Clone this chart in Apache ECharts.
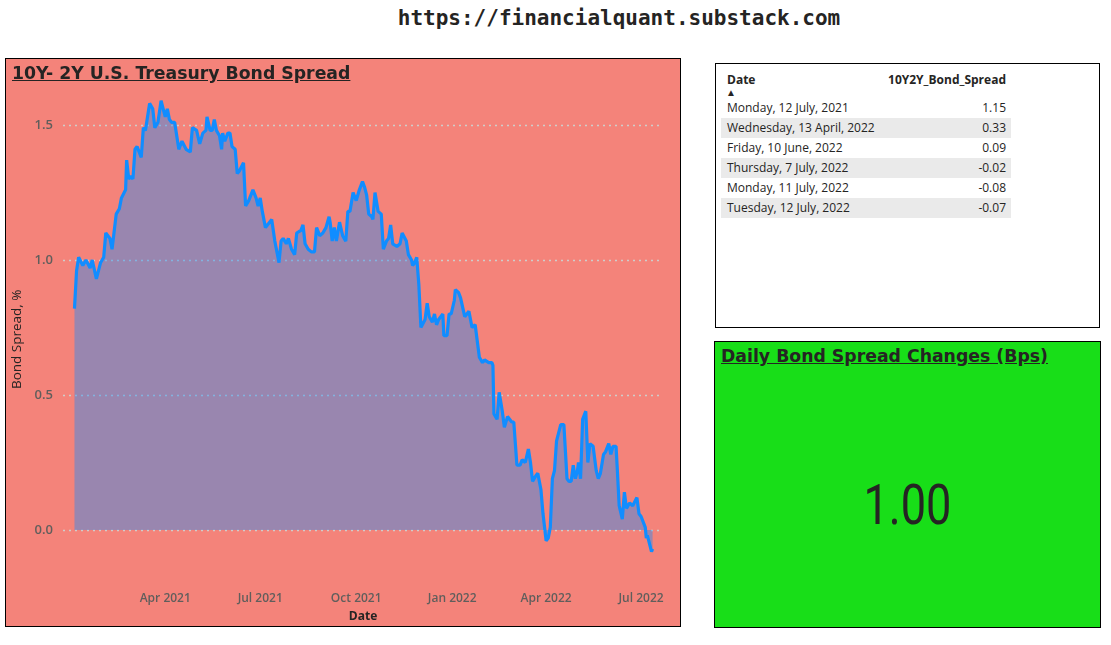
<!DOCTYPE html>
<html>
<head>
<meta charset="utf-8">
<script src="https://cdn.jsdelivr.net/npm/echarts@6/dist/echarts.min.js"></script>
<style>
html,body{margin:0;padding:0;background:#ffffff;width:1111px;height:645px;overflow:hidden;}
body{position:relative;font-family:"Open Sans","Noto Sans",sans-serif;color:#252423;}
.abs{position:absolute;}
#site{left:319px;top:4px;width:600px;text-align:center;font-family:"DejaVu Sans Mono",monospace;font-weight:bold;font-size:21px;line-height:28px;color:#252423;}
#panel{left:5px;top:58px;width:676px;height:569px;box-sizing:border-box;border:1px solid #000;background:#F4837A;}
#chart{left:0;top:0;width:674px;height:567px;}
#ctitle{left:6px;top:3px;font-family:"DejaVu Sans",sans-serif;font-weight:bold;font-size:17.3px;line-height:22px;text-decoration:underline;color:#252423;white-space:nowrap;}
#tbl{left:715px;top:63px;width:385px;height:265px;box-sizing:border-box;border:1px solid #000;background:#fff;}
.hdr{font-weight:bold;font-size:12px;line-height:14px;white-space:nowrap;}
.row{left:5px;width:290px;height:20px;font-size:12px;line-height:20px;white-space:nowrap;}
.row .d{position:absolute;left:6px;}
.row .v{position:absolute;right:5px;}
#card{left:714px;top:341px;width:387px;height:287px;box-sizing:border-box;border:1px solid #000;background:#18DE18;}
#cardTitle{left:6px;top:3px;font-family:"DejaVu Sans",sans-serif;font-weight:bold;font-size:17.3px;line-height:22px;text-decoration:underline;color:#252423;white-space:nowrap;}
#cardVal{left:0;width:385px;top:130px;text-align:center;font-family:Roboto,"Noto Sans",sans-serif;font-size:55px;line-height:66px;color:#252423;transform:scaleX(0.82);transform-origin:center;}
</style>
</head>
<body>
<div id="site" class="abs">https://financialquant.substack.com</div>
<div id="panel" class="abs">
  <div id="chart" class="abs"></div>
  <div id="ctitle" class="abs">10Y- 2Y U.S. Treasury Bond Spread</div>
</div>
<div id="tbl" class="abs"></div>
<div id="card" class="abs">
  <div id="cardTitle" class="abs">Daily Bond Spread Changes (Bps)</div>
  <div id="cardVal" class="abs"></div>
</div>
<script>
// ---- data ----
const dates = [
'2021-01-04','2021-01-06','2021-01-08','2021-01-12','2021-01-15','2021-01-19','2021-01-21','2021-01-25','2021-01-29',
'2021-02-01','2021-02-03','2021-02-07','2021-02-09','2021-02-13','2021-02-16','2021-02-18','2021-02-22','2021-02-23','2021-02-25','2021-02-27',
'2021-03-01','2021-03-03','2021-03-05','2021-03-09','2021-03-11','2021-03-13','2021-03-17','2021-03-20','2021-03-22','2021-03-25','2021-03-28','2021-03-30',
'2021-04-01','2021-04-03','2021-04-05','2021-04-07','2021-04-10','2021-04-14','2021-04-17','2021-04-21','2021-04-25','2021-04-27',
'2021-05-01','2021-05-04','2021-05-07','2021-05-10','2021-05-11','2021-05-14','2021-05-16','2021-05-18','2021-05-20','2021-05-23','2021-05-25','2021-05-26','2021-05-28','2021-05-31',
'2021-06-02','2021-06-04','2021-06-07','2021-06-09','2021-06-11','2021-06-15','2021-06-17','2021-06-20','2021-06-24','2021-06-27','2021-06-29',
'2021-07-01','2021-07-03','2021-07-06','2021-07-10','2021-07-12','2021-07-15','2021-07-19','2021-07-21','2021-07-23','2021-07-26','2021-07-28','2021-07-31',
'2021-08-03','2021-08-05','2021-08-09','2021-08-11','2021-08-13','2021-08-16','2021-08-19','2021-08-22','2021-08-24','2021-08-27','2021-08-30',
'2021-09-02','2021-09-05','2021-09-06','2021-09-08','2021-09-10','2021-09-12','2021-09-15','2021-09-18','2021-09-21','2021-09-23','2021-09-25','2021-09-28',
'2021-10-01','2021-10-04','2021-10-07','2021-10-09','2021-10-11','2021-10-13','2021-10-16','2021-10-17','2021-10-19','2021-10-22','2021-10-25','2021-10-27','2021-10-30',
'2021-11-01','2021-11-03','2021-11-05','2021-11-09','2021-11-12','2021-11-14','2021-11-18','2021-11-20','2021-11-23','2021-11-24','2021-11-26','2021-11-28','2021-11-30',
'2021-12-02','2021-12-06','2021-12-08','2021-12-10','2021-12-13','2021-12-15','2021-12-17','2021-12-19','2021-12-23','2021-12-24','2021-12-27','2021-12-29','2021-12-31',
'2022-01-03','2022-01-04','2022-01-07','2022-01-09','2022-01-13','2022-01-17','2022-01-20','2022-01-23','2022-01-27','2022-01-30',
'2022-02-01','2022-02-05','2022-02-08','2022-02-09','2022-02-10','2022-02-13','2022-02-15','2022-02-18','2022-02-20','2022-02-23','2022-02-27',
'2022-03-01','2022-03-04','2022-03-07','2022-03-09','2022-03-12','2022-03-15','2022-03-17','2022-03-19','2022-03-22','2022-03-24','2022-03-27','2022-03-29',
'2022-04-01','2022-04-03','2022-04-05','2022-04-07','2022-04-09','2022-04-11','2022-04-15','2022-04-18','2022-04-21','2022-04-23','2022-04-25','2022-04-27','2022-04-29',
'2022-05-01','2022-05-02','2022-05-04','2022-05-06','2022-05-09','2022-05-11','2022-05-13','2022-05-16','2022-05-19','2022-05-21','2022-05-23','2022-05-26','2022-05-28','2022-05-31',
'2022-06-02','2022-06-04','2022-06-07','2022-06-08','2022-06-10','2022-06-13','2022-06-15','2022-06-17','2022-06-20','2022-06-23','2022-06-27','2022-06-29',
'2022-07-01','2022-07-05','2022-07-06','2022-07-07','2022-07-11','2022-07-12'
];
const spreads = [
0.82,0.96,1.01,0.98,1.00,0.97,1.00,0.93,0.99,
1.01,1.10,1.08,1.04,1.17,1.19,1.23,1.26,1.37,1.30,1.31,
1.30,1.41,1.42,1.38,1.49,1.48,1.58,1.56,1.49,1.51,1.59,1.56,
1.53,1.56,1.52,1.51,1.51,1.41,1.44,1.41,1.40,1.49,
1.48,1.43,1.47,1.48,1.53,1.48,1.48,1.52,1.48,1.46,1.41,1.47,1.44,1.47,
1.47,1.42,1.41,1.32,1.33,1.36,1.20,1.22,1.26,1.23,1.20,
1.23,1.18,1.12,1.14,1.15,1.07,0.99,1.07,1.08,1.06,1.08,1.04,
1.02,1.10,1.11,1.13,1.06,1.04,1.03,1.03,1.12,1.09,1.10,
1.12,1.16,1.14,1.07,1.12,1.07,1.14,1.09,1.07,1.18,1.18,1.25,
1.22,1.26,1.29,1.27,1.24,1.17,1.16,1.15,1.25,1.18,1.17,1.04,1.07,
1.08,1.13,1.06,1.05,1.06,1.10,1.07,1.02,1.00,0.98,0.99,1.01,0.91,
0.75,0.78,0.84,0.79,0.77,0.80,0.76,0.78,0.80,0.72,0.72,0.80,0.80,
0.85,0.89,0.88,0.86,0.79,0.81,0.75,0.76,0.64,0.62,
0.63,0.62,0.62,0.61,0.43,0.41,0.51,0.44,0.38,0.42,0.40,
0.40,0.24,0.24,0.26,0.25,0.30,0.25,0.18,0.20,0.21,0.15,0.06,
-0.04,-0.03,0.01,0.19,0.22,0.33,0.39,0.39,0.19,0.18,0.18,0.24,0.19,
0.22,0.25,0.19,0.41,0.44,0.25,0.32,0.31,0.22,0.19,0.21,0.28,0.29,0.32,
0.28,0.31,0.31,0.24,0.09,0.04,0.14,0.08,0.10,0.09,0.12,0.06,
0.05,0.01,-0.03,-0.02,-0.08,-0.07
];
const xTickDates = ['2021-04-01','2021-07-01','2021-10-01','2022-01-01','2022-04-01','2022-07-01'];
const yTickValues = [0, 0.5, 1.0, 1.5];
const tableDates = ['Monday, 12 July, 2021','Wednesday, 13 April, 2022','Friday, 10 June, 2022','Thursday, 7 July, 2022','Monday, 11 July, 2022','Tuesday, 12 July, 2022'];
const tableValues = ['1.15','0.33','0.09','-0.02','-0.08','-0.07'];
const cardValue = '1.00';

// ---- table ----
const tbl = document.getElementById('tbl');
let html = '<div class="abs hdr" style="left:11px;top:9px;">Date</div>' +
  '<div class="abs" style="left:10px;top:24px;font-size:10px;line-height:9px;">&#9650;</div>' +
  '<div class="abs hdr" style="right:93px;top:9px;">10Y2Y_Bond_Spread</div>';
tableDates.forEach((d, i) => {
  const bg = i % 2 === 1 ? '#EAEAEA' : 'transparent';
  html += '<div class="abs row" style="top:' + (33.5 + i * 20) + 'px;background:' + bg + ';">' +
    '<span class="d">' + d + '</span><span class="v">' + tableValues[i] + '</span></div>';
});
tbl.innerHTML = html;
document.getElementById('cardVal').textContent = cardValue;

// ---- chart ----
const months = ['Jan','Feb','Mar','Apr','May','Jun','Jul','Aug','Sep','Oct','Nov','Dec'];
const toTs = s => echarts.time.parse(s).getTime();
const chart = echarts.init(document.getElementById('chart'), null, {renderer: 'canvas'});
const xTicks = xTickDates.map(toTs);
chart.setOption({
  animation: false,
  backgroundColor: 'transparent',
  grid: {left: 57, right: 17, top: 25.5, bottom: 42, containLabel: false, outerBoundsMode: 'none'},
  xAxis: {
    type: 'value',
    min: toTs('2020-12-24'),
    max: toTs('2022-07-22'),
    name: 'Date',
    nameLocation: 'middle',
    nameGap: 27,
    nameTextStyle: {color: '#252423', fontSize: 12, fontFamily: 'Open Sans', fontWeight: 'bold'},
    axisLine: {show: false},
    axisTick: {show: false, customValues: xTicks},
    splitLine: {show: false},
    axisLabel: {
      customValues: xTicks,
      color: '#605E5C', fontSize: 12, fontWeight: 600, fontFamily: 'Open Sans', margin: 9,
      formatter: function (v) { const d = new Date(v); return months[d.getMonth()] + ' ' + d.getFullYear(); }
    }
  },
  yAxis: {
    type: 'value',
    min: -0.2,
    max: 1.65,
    name: 'Bond Spread, %',
    nameLocation: 'middle',
    nameGap: 38,
    nameTextStyle: {color: '#252423', fontSize: 13.5, fontFamily: 'Open Sans', padding: [0, 10, 0, 0]},
    axisLine: {show: false},
    axisTick: {show: false, customValues: yTickValues},
    axisLabel: {
      customValues: yTickValues,
      color: '#605E5C', fontSize: 13, fontWeight: 600, fontFamily: 'Open Sans', margin: 10,
      formatter: function (v) { return v.toFixed(1); }
    },
    splitLine: {show: true, lineStyle: {color: '#CFCDCB', width: 1.3, type: [2, 4]}}
  },
  series: [{
    type: 'line',
    data: dates.map((d, i) => [toTs(d), spreads[i]]),
    symbol: 'none',
    smooth: false,
    lineStyle: {color: '#118DFF', width: 3.2},
    areaStyle: {color: '#118DFF', opacity: 0.4},
    z: 3
  }]
});
</script>
</body>
</html>
